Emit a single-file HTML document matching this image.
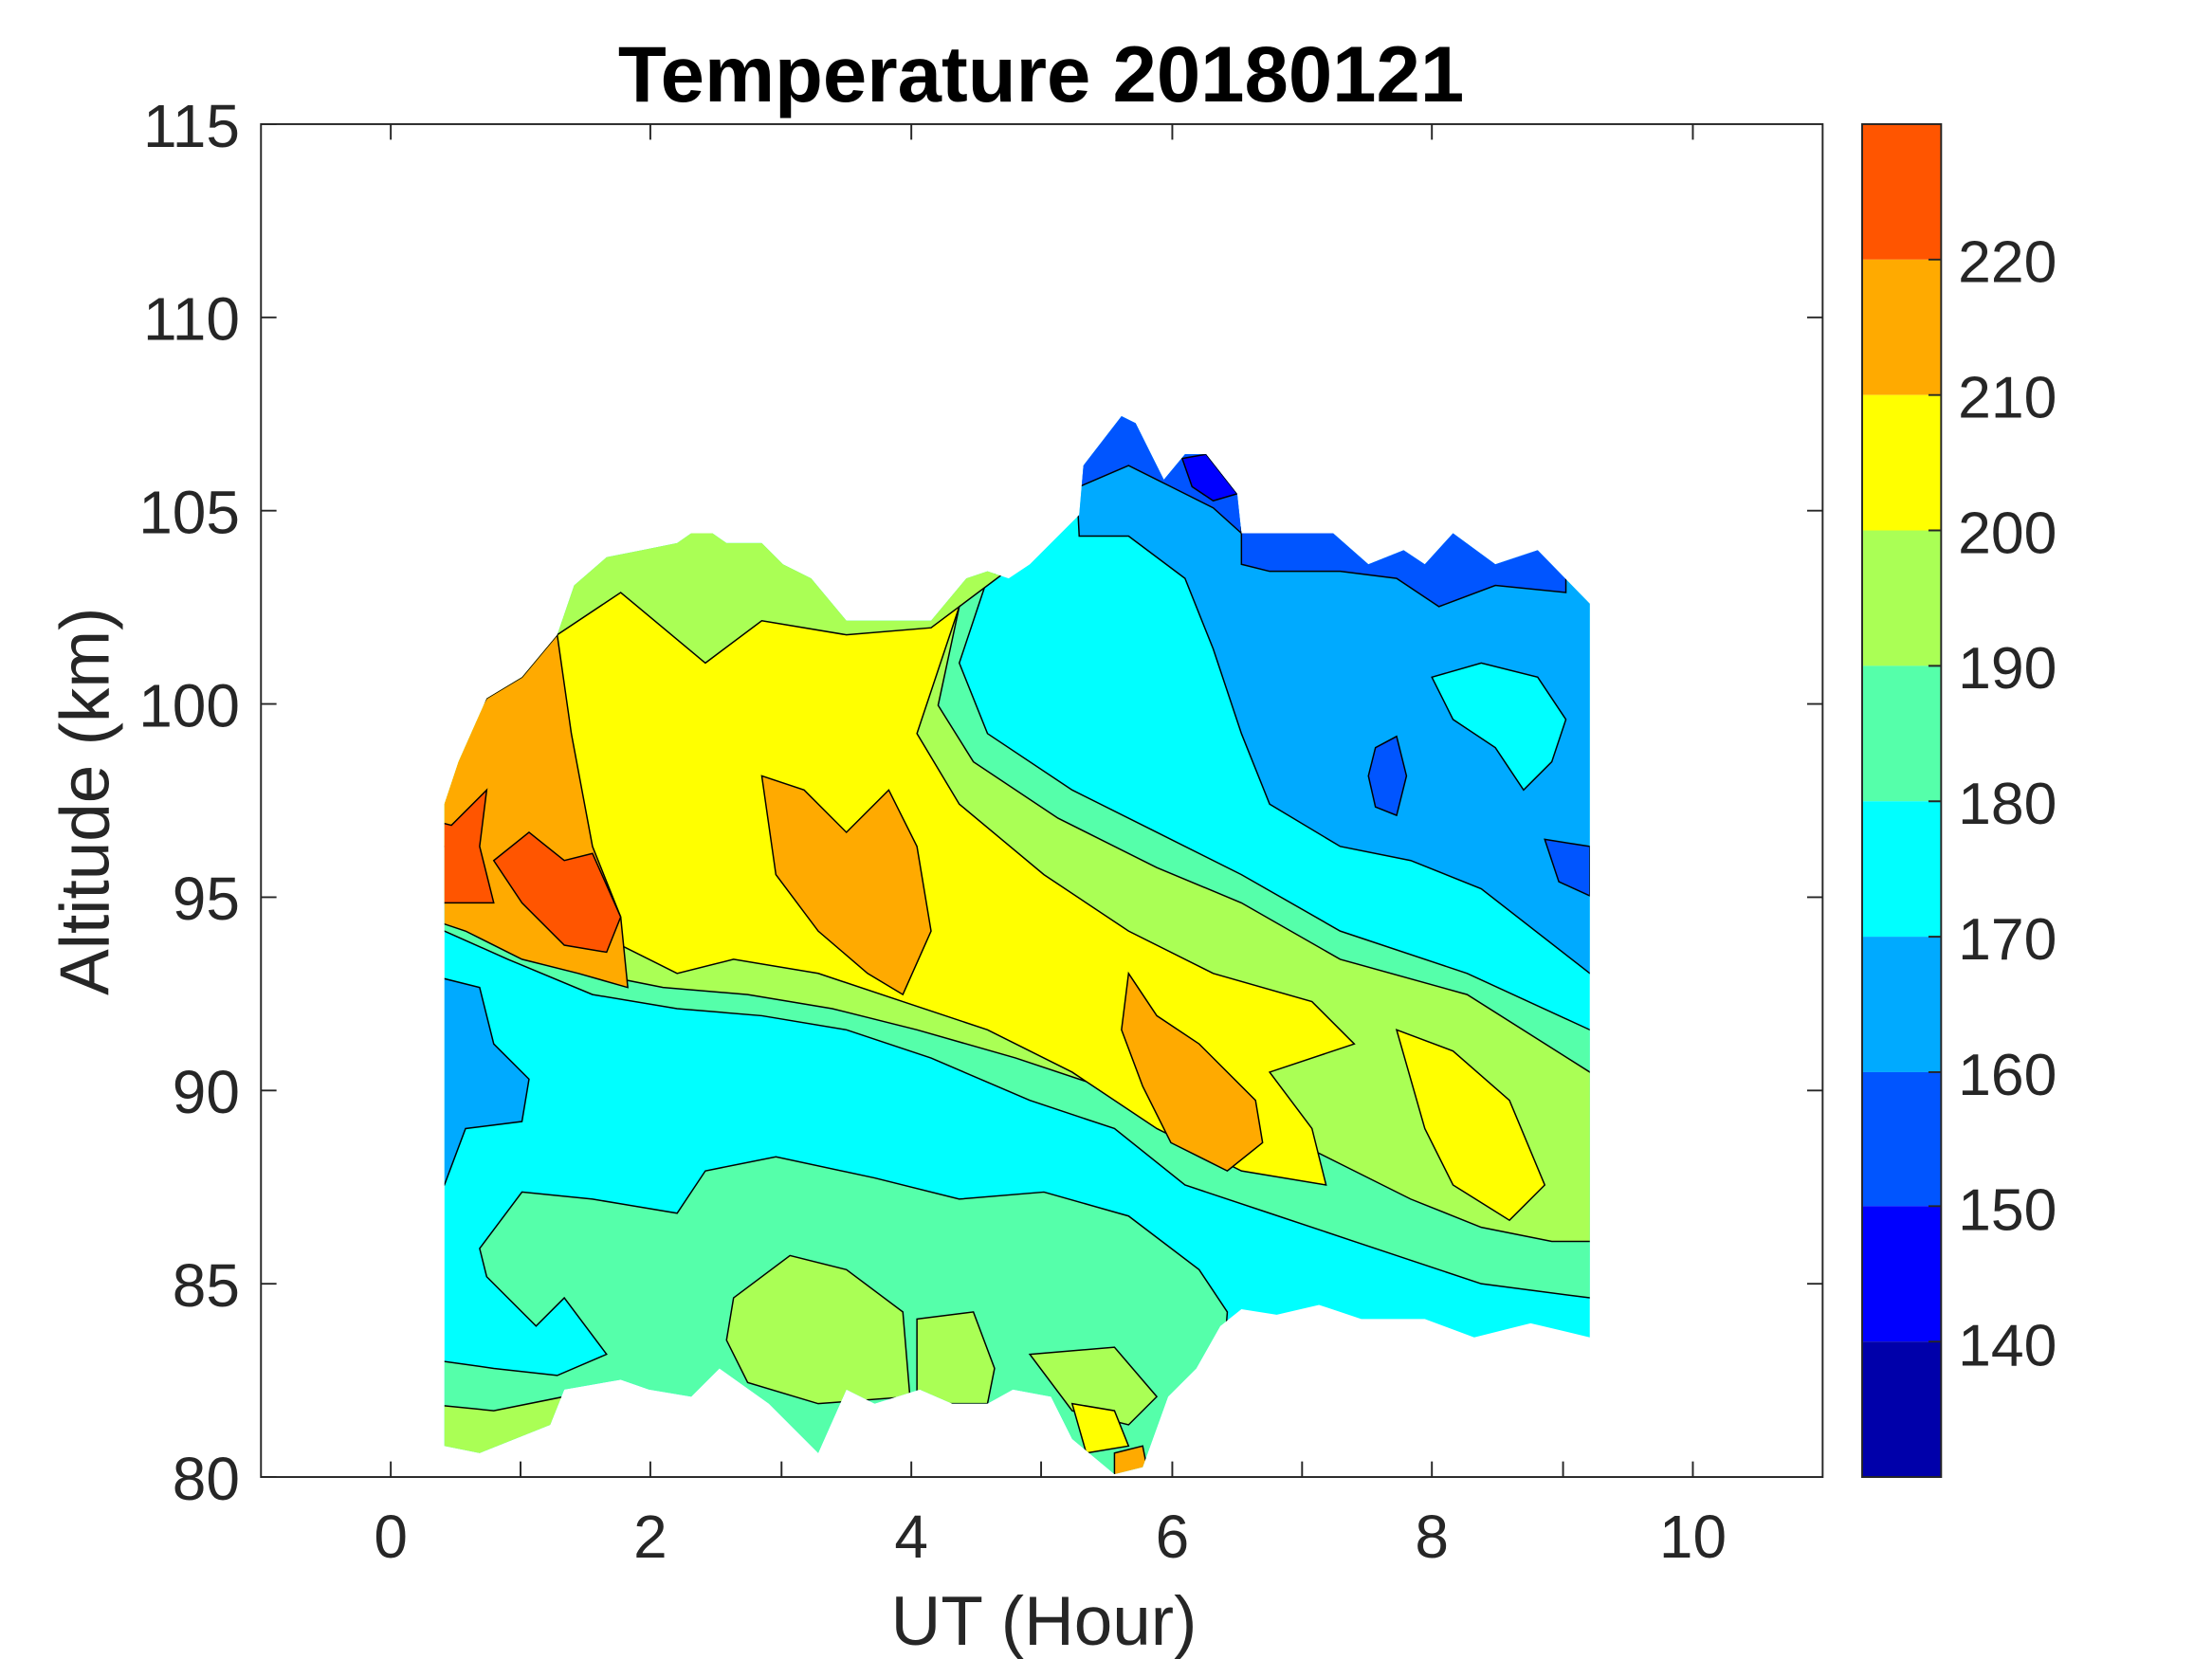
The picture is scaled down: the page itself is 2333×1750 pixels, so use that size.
<!DOCTYPE html>
<html><head><meta charset="utf-8"><style>html,body{margin:0;padding:0;background:#fff}svg{display:block}</style></head>
<body>
<svg width="2333" height="1750" viewBox="0 0 1568 1176" preserveAspectRatio="none" xmlns="http://www.w3.org/2000/svg" font-family="Liberation Sans, Arial, sans-serif">
<defs>
<clipPath id="env"><polygon points="315,570 325,540 345,495 370,480 395,450 407,415 430,395 455,390 480,385 490,378 505,378 515,385 540,385 555,400 575,410 600,440 660,440 685,410 700,405 715,410 730,400 745,385 765,365 768,330 795,295 805,300 815,320 825,340 840,322 855,322 877,350 880,378 945,378 970,400 995,390 1010,400 1030,378 1060,400 1090,390 1127,428 1127,948 1085,938 1045,948 1010,935 965,935 935,925 905,932 880,928 865,940 848,970 828,990 810,1040 790,1045 760,1020 745,990 718,985 700,995 675,995 652,985 620,995 600,985 580,1030 545,995 510,970 490,990 460,985 440,978 400,985 390,1010 340,1030 315,1025"/></clipPath>
</defs>
<rect width="1568" height="1176" fill="#fff"/>
<g clip-path="url(#env)" stroke="#000" stroke-width="1">
<rect x="300" y="280" width="840" height="780" fill="#00ffff"/>
<polygon fill="#55ffaa" points="300,280 740,280 740,385 700,410 680,470 700,520 760,560 820,590 880,620 950,660 1040,690 1127,730 1140,730 1140,920 1127,920 1050,910 960,880 900,860 840,840 790,800 730,780 660,750 600,730 540,720 480,715 420,705 360,680 315,660 300,660"/>
<polygon fill="#aaff55" points="300,280 720,280 720,400 680,430 665,500 690,540 750,580 820,615 880,640 950,680 1040,705 1127,760 1140,760 1140,880 1100,880 1050,870 1000,850 960,830 900,800 880,820 840,800 780,770 720,750 650,730 590,715 530,705 470,700 420,690 360,665 315,640 300,640"/>
<polygon fill="#ffff00" points="395,450 440,420 500,470 540,440 600,450 660,445 680,430 650,520 680,570 740,620 800,660 860,690 930,710 960,740 900,760 930,800 940,840 880,830 820,800 760,760 700,730 640,710 580,690 520,680 480,690 440,670 400,600 300,600 300,460"/>
<polygon fill="#ffff00" points="990,730 1030,745 1070,780 1095,840 1070,865 1030,840 1010,800"/>
<polygon fill="#ffaa00" points="300,540 330,520 345,495 370,480 395,450 405,520 420,600 440,650 445,700 410,690 370,680 330,660 300,650"/>
<polygon fill="#ffaa00" points="540,550 570,560 600,590 630,560 650,600 660,660 640,705 615,690 580,660 550,620"/>
<polygon fill="#ffaa00" points="800,690 820,720 850,740 890,780 895,810 870,830 830,810 810,770 795,730"/>
<polygon fill="#ff5500" points="300,580 320,585 345,560 340,600 350,640 330,640 300,640"/>
<polygon fill="#ff5500" points="350,610 375,590 400,610 420,605 440,650 430,675 400,670 370,640"/>
<polygon fill="#00aaff" points="760,280 1140,280 1140,690 1127,690 1050,630 1000,610 950,600 900,570 880,520 860,460 840,410 800,380 765,380"/>
<polygon fill="#00ffff" points="1015,480 1050,470 1090,480 1110,510 1100,540 1080,560 1060,530 1030,510"/>
<polygon fill="#0055ff" points="765,280 880,280 880,378 860,360 830,345 800,330 765,345"/>
<polygon fill="#0055ff" points="880,370 1110,370 1110,420 1060,415 1020,430 990,410 950,405 900,405 880,400"/>
<polygon fill="#0055ff" points="975,530 990,522 997,550 990,578 975,572 970,550"/>
<polygon fill="#0055ff" points="1095,595 1127,600 1127,635 1105,625"/>
<polygon fill="#0000ff" points="838,325 855,322 877,350 860,355 845,345"/>
<polygon fill="#00aaff" points="300,690 340,700 350,740 375,765 370,795 330,800 315,840 300,840"/>
<polygon fill="#55ffaa" points="300,963 350,970 395,975 430,960 400,920 380,940 345,905 340,885 370,845 420,850 480,860 500,830 550,820 620,835 680,850 740,845 800,862 850,900 870,930 860,1060 300,1060"/>
<polygon fill="#aaff55" points="520,920 560,890 600,900 640,930 645,990 580,995 530,980 515,950"/>
<polygon fill="#aaff55" points="650,935 690,930 705,970 700,995 650,995"/>
<polygon fill="#aaff55" points="730,960 790,955 820,990 800,1010 760,1000"/>
<polygon fill="#aaff55" points="300,995 350,1000 400,990 400,1060 300,1060"/>
<polygon fill="#ffff00" points="760,995 790,1000 800,1025 770,1030"/>
<polygon fill="#ffaa00" points="790,1030 810,1025 815,1050 790,1050"/>
</g>
<rect x="185" y="88" width="1107" height="959" fill="none" stroke="#262626" stroke-width="1.3"/>
<g stroke="#262626" stroke-width="1.3">
<path d="M277,1047v-11M369,1047v-11M461,1047v-11M554,1047v-11M646,1047v-11M738,1047v-11M831,1047v-11M923,1047v-11M1015,1047v-11M1108,1047v-11M1200,1047v-11"/>
<path d="M277,88v11M461,88v11M646,88v11M831,88v11M1015,88v11M1200,88v11"/>
<path d="M185,88h11M185,225h11M185,362h11M185,499h11M185,636h11M185,773h11M185,910h11M185,1047h11"/>
<path d="M1292,225h-11M1292,362h-11M1292,499h-11M1292,636h-11M1292,773h-11M1292,910h-11"/>
</g>
<g font-size="43" fill="#262626">
<g text-anchor="middle"><text x="277" y="1104">0</text><text x="461" y="1104">2</text><text x="646" y="1104">4</text><text x="831" y="1104">6</text><text x="1015" y="1104">8</text><text x="1200" y="1104">10</text></g>
<g text-anchor="end"><text x="170" y="104">115</text><text x="170" y="241">110</text><text x="170" y="378">105</text><text x="170" y="515">100</text><text x="170" y="652">95</text><text x="170" y="789">90</text><text x="170" y="926">85</text><text x="170" y="1063">80</text></g>
</g>
<g font-size="42" fill="#262626"><text x="1388" y="200">220</text><text x="1388" y="296">210</text><text x="1388" y="392">200</text><text x="1388" y="488">190</text><text x="1388" y="584">180</text><text x="1388" y="680">170</text><text x="1388" y="776">160</text><text x="1388" y="872">150</text><text x="1388" y="968">140</text></g>
<text x="740" y="1166" font-size="49" fill="#262626" text-anchor="middle">UT (Hour)</text>
<text transform="translate(77,568) rotate(-90)" font-size="49" fill="#262626" text-anchor="middle">Altitude (km)</text>
<text x="738" y="72" font-size="56" font-weight="bold" fill="#000" text-anchor="middle">Temperature 20180121</text>
<g>
<rect x="1320" y="88" width="56" height="96" fill="#ff5500"/>
<rect x="1320" y="184" width="56" height="96" fill="#ffaa00"/>
<rect x="1320" y="280" width="56" height="96" fill="#ffff00"/>
<rect x="1320" y="376" width="56" height="96" fill="#aaff55"/>
<rect x="1320" y="472" width="56" height="96" fill="#55ffaa"/>
<rect x="1320" y="568" width="56" height="96" fill="#00ffff"/>
<rect x="1320" y="664" width="56" height="96" fill="#00aaff"/>
<rect x="1320" y="760" width="56" height="95" fill="#0055ff"/>
<rect x="1320" y="855" width="56" height="96" fill="#0000ff"/>
<rect x="1320" y="951" width="56" height="96" fill="#0000aa"/>
<rect x="1320" y="88" width="56" height="959" fill="none" stroke="#262626" stroke-width="1.3"/>
<path d="M1376,184h-9M1376,280h-9M1376,376h-9M1376,472h-9M1376,568h-9M1376,664h-9M1376,760h-9M1376,855h-9M1376,951h-9" stroke="#262626" stroke-width="1.3"/>
</g>
</svg>
</body></html>
